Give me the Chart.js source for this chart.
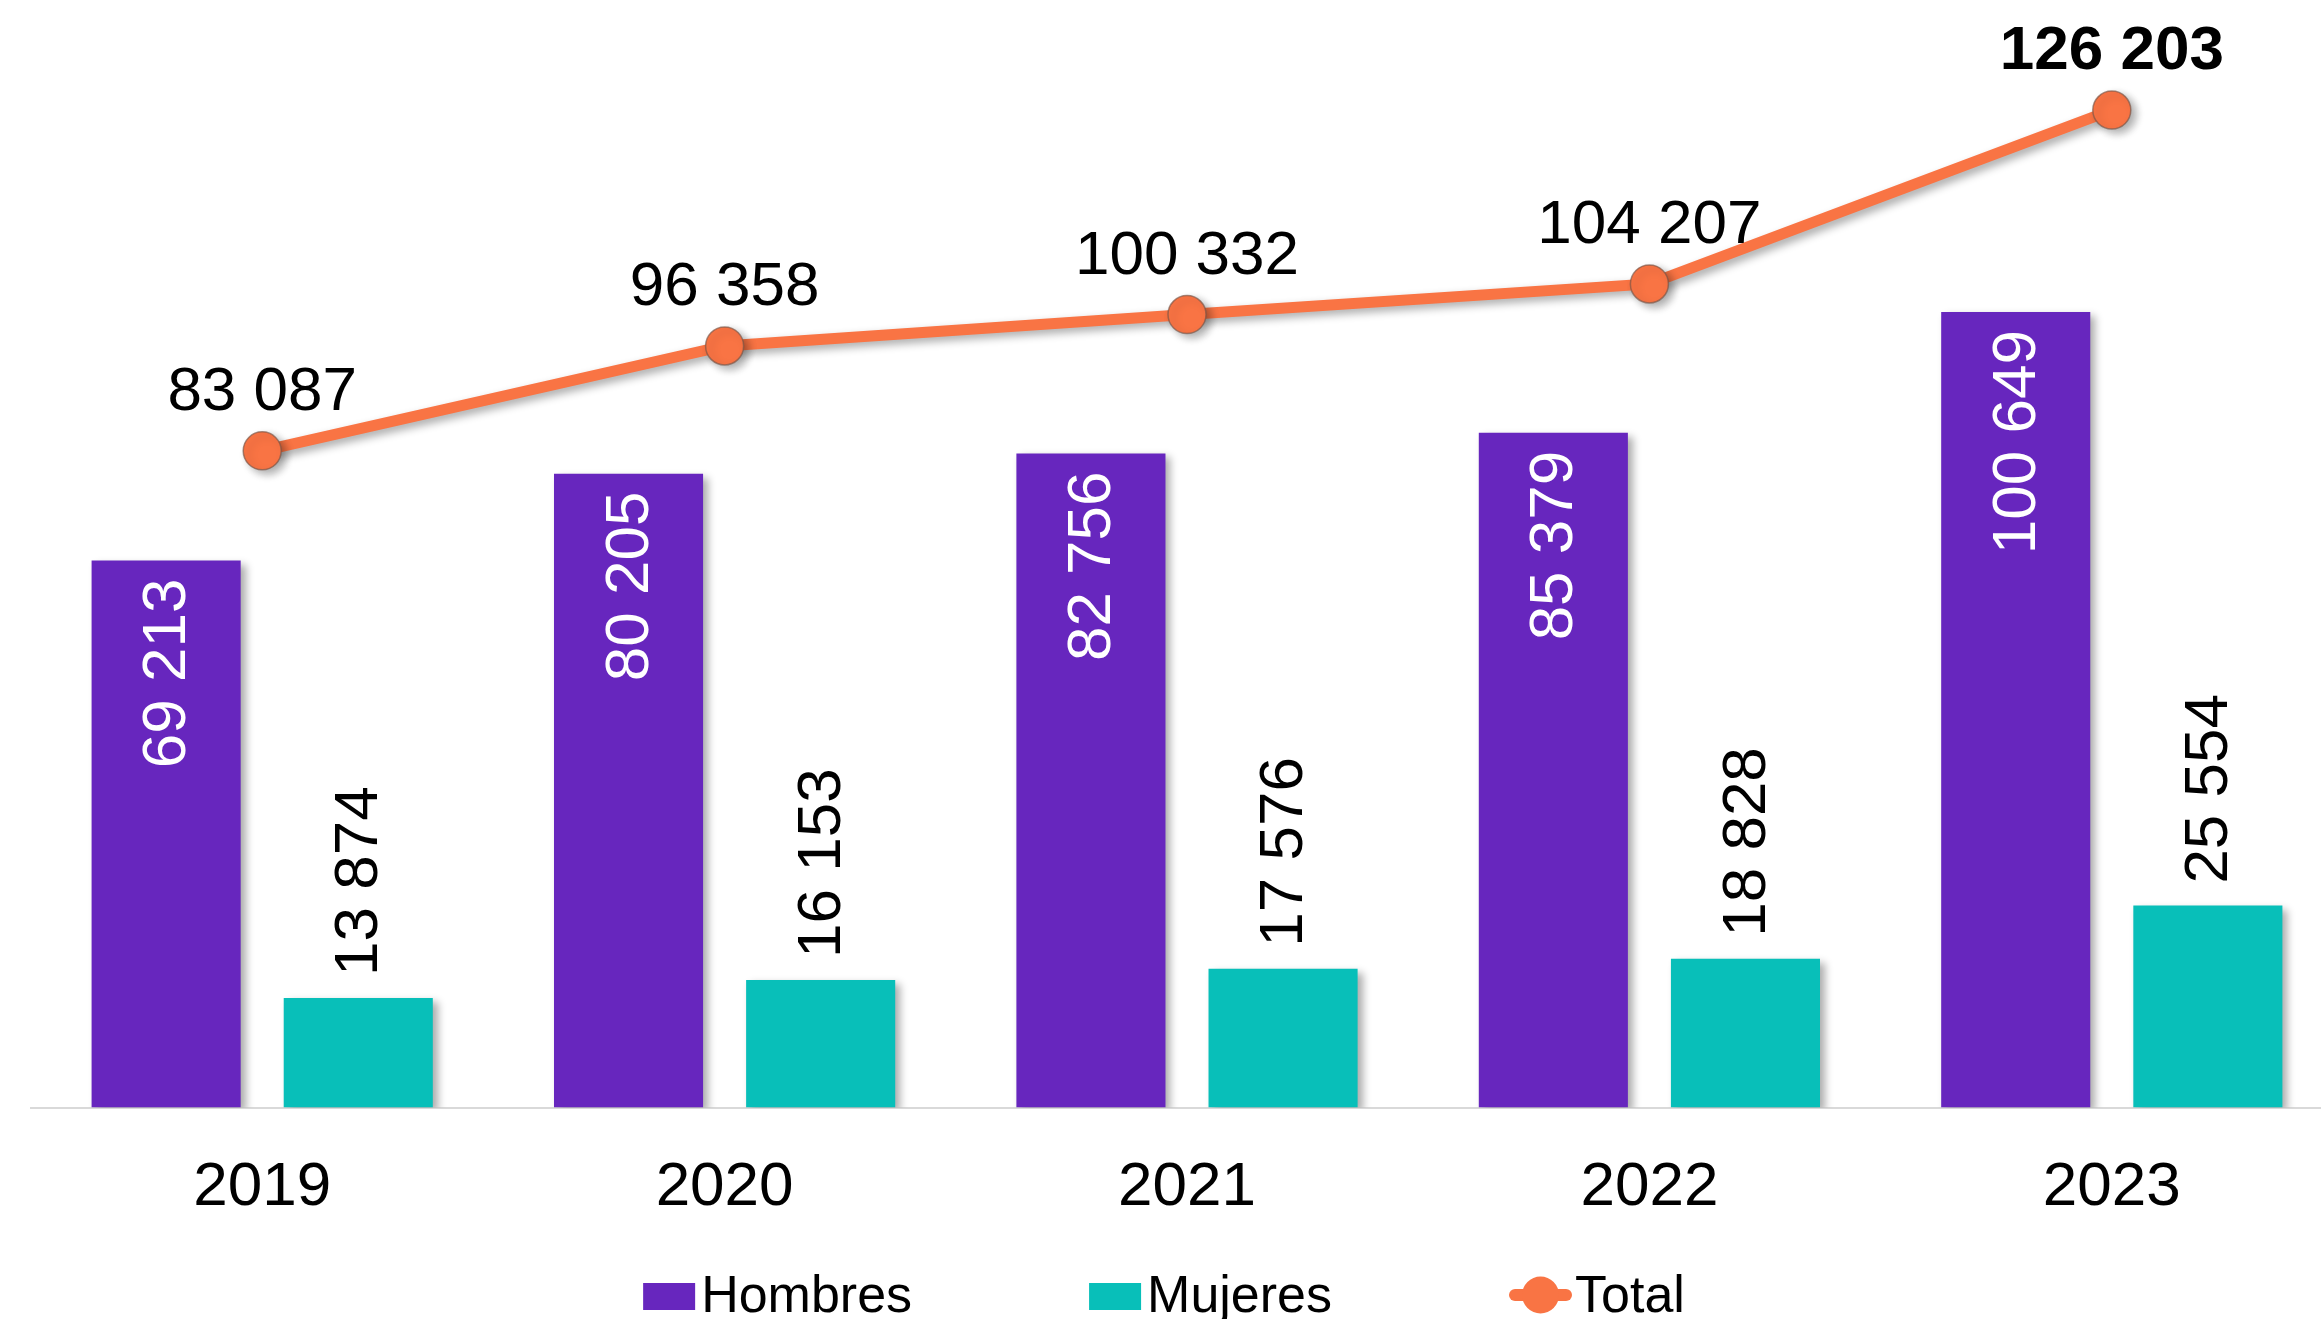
<!DOCTYPE html>
<html>
<head>
<meta charset="utf-8">
<script src="https://cdn.jsdelivr.net/npm/chart.js@4.4.1/dist/chart.umd.min.js"></script>
<style>
  html, body { margin: 0; padding: 0; background: #ffffff; overflow: hidden; }
  #wrap { width: 2321px; height: 1319px; position: relative; overflow: hidden; }
</style>
</head>
<body>
<div id="wrap"><canvas id="c" width="2343" height="1319"></canvas></div>
<script>
const categories = ['2019', '2020', '2021', '2022', '2023'];
const hombres = [69213, 80205, 82756, 85379, 100649];
const mujeres = [13874, 16153, 17576, 18828, 25554];
const total = [83087, 96358, 100332, 104207, 126203];
const seriesNames = ['Hombres', 'Mujeres', 'Total'];
const yMax = 140000;

const PURPLE = '#6726BE';
const TEAL = '#08BFB9';
const ORANGE = '#F97444';
const FONT = '"Liberation Sans", Arial, sans-serif';

function fmt(v) {
  return String(v).replace(/\B(?=(\d{3})+(?!\d))/g, ' ');
}

const shadowPlugin = {
  id: 'shadow',
  beforeDatasetDraw(chart, args) {
    const ctx = chart.ctx;
    ctx.save();
    ctx.shadowColor = 'rgba(0,0,0,0.33)';
    ctx.shadowBlur = 8;
    ctx.shadowOffsetX = 5;
    ctx.shadowOffsetY = 4;
  },
  afterDatasetDraw(chart, args) {
    chart.ctx.restore();
  }
};

const labelPlugin = {
  id: 'labels',
  afterDatasetsDraw(chart) {
    const ctx = chart.ctx;
    ctx.save();
    const mH = chart.getDatasetMeta(0);
    mH.data.forEach((el, i) => {
      ctx.save();
      ctx.translate(el.x + 2, el.y + 18);
      ctx.rotate(-Math.PI / 2);
      ctx.font = '62px ' + FONT;
      ctx.fillStyle = '#ffffff';
      ctx.textAlign = 'right';
      ctx.textBaseline = 'middle';
      ctx.fillText(fmt(hombres[i]), 0, 0);
      ctx.restore();
    });
    const mM = chart.getDatasetMeta(1);
    mM.data.forEach((el, i) => {
      ctx.save();
      ctx.translate(el.x + 2, el.y - 22);
      ctx.rotate(-Math.PI / 2);
      ctx.font = '62px ' + FONT;
      ctx.fillStyle = '#000000';
      ctx.textAlign = 'left';
      ctx.textBaseline = 'middle';
      ctx.fillText(fmt(mujeres[i]), 0, 0);
      ctx.restore();
    });
    const mT = chart.getDatasetMeta(2);
    mT.data.forEach((el, i) => {
      const last = i === total.length - 1;
      ctx.font = (last ? 'bold ' : '') + '62px ' + FONT;
      ctx.fillStyle = '#000000';
      ctx.textAlign = 'center';
      ctx.textBaseline = 'middle';
      ctx.fillText(fmt(total[i]), el.x, el.y - 58);
    });
    ctx.restore();
  }
};

const legendPlugin = {
  id: 'customLegend',
  afterDraw(chart) {
    const ctx = chart.ctx;
    ctx.save();
    ctx.font = '52px ' + FONT;
    const baseline = 1312;
    const markerW = [52, 52, 63];
    const textGap = [6, 6, 3];
    const itemGap = 177;
    const widths = seriesNames.map((n, i) => markerW[i] + textGap[i] + ctx.measureText(n).width);
    const totalW = widths.reduce((a, b) => a + b, 0) + itemGap * (seriesNames.length - 1);
    let x = 1164 - totalW / 2;
    const colors = [PURPLE, TEAL, ORANGE];
    seriesNames.forEach((n, i) => {
      if (i < 2) {
        ctx.fillStyle = colors[i];
        ctx.fillRect(x, 1283, 52, 27);
      } else {
        const cy = 1295;
        ctx.strokeStyle = colors[i];
        ctx.lineWidth = 12;
        ctx.lineCap = 'round';
        ctx.beginPath();
        ctx.moveTo(x + 6, cy);
        ctx.lineTo(x + markerW[i] - 6, cy);
        ctx.stroke();
        ctx.fillStyle = colors[i];
        ctx.beginPath();
        ctx.arc(x + markerW[i] / 2, cy, 18.5, 0, Math.PI * 2);
        ctx.fill();
      }
      ctx.fillStyle = '#000000';
      ctx.textAlign = 'left';
      ctx.textBaseline = 'alphabetic';
      ctx.fillText(n, x + markerW[i] + textGap[i], baseline);
      x += widths[i] + itemGap;
    });
    ctx.restore();
  }
};

new Chart(document.getElementById('c'), {
  data: {
    labels: categories,
    datasets: [
      {
        type: 'bar',
        label: seriesNames[0],
        data: hombres,
        backgroundColor: PURPLE,
        borderWidth: 0,
        categoryPercentage: 0.831,
        barPercentage: 0.776,
        order: 1
      },
      {
        type: 'bar',
        label: seriesNames[1],
        data: mujeres,
        backgroundColor: TEAL,
        borderWidth: 0,
        categoryPercentage: 0.831,
        barPercentage: 0.776,
        order: 2
      },
      {
        type: 'line',
        label: seriesNames[2],
        data: total,
        borderColor: ORANGE,
        borderWidth: 11,
        backgroundColor: ORANGE,
        pointBackgroundColor: ORANGE,
        pointBorderColor: 'rgba(120,85,70,0.65)',
        pointBorderWidth: 1.5,
        pointRadius: 19,
        tension: 0,
        clip: false,
        order: 0
      }
    ]
  },
  options: {
    responsive: false,
    animation: false,
    devicePixelRatio: 1,
    layout: { autoPadding: false, padding: { left: 31, right: 0, top: 1, bottom: 51 } },
    plugins: {
      legend: { display: false },
      tooltip: { enabled: false }
    },
    scales: {
      x: {
        offset: true,
        grid: { display: false, drawTicks: false },
        border: { display: true, color: '#d9d9d9', width: 2 },
        ticks: {
          color: '#000000',
          padding: 43,
          font: { family: FONT, size: 62 }
        }
      },
      y: {
        display: false,
        min: 0,
        max: yMax
      }
    }
  },
  plugins: [shadowPlugin, labelPlugin, legendPlugin]
});
</script>
</body>
</html>
